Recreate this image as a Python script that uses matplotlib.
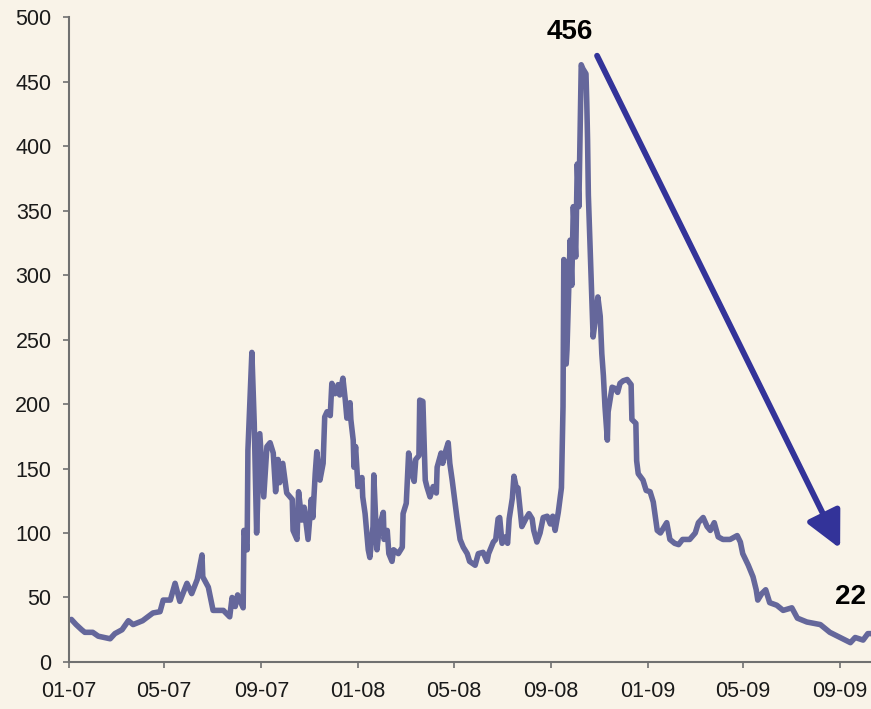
import matplotlib
matplotlib.use("Agg")
import matplotlib.pyplot as plt
import matplotlib.dates as mdates
import pandas as pd

plt.rcParams.update({'font.family': ['Liberation Sans', 'DejaVu Sans'],
                     'font.size': 15.5})

# spread in basis points, 2007 - 2009
dates = [
    "2007-01-04", "2007-01-10", "2007-01-17", "2007-01-21", "2007-01-31", "2007-02-07",
    "2007-02-22", "2007-02-28", "2007-03-09", "2007-03-17", "2007-03-23", "2007-04-04",
    "2007-04-17", "2007-04-26", "2007-04-30", "2007-05-09", "2007-05-15", "2007-05-21",
    "2007-05-30", "2007-06-05", "2007-06-12", "2007-06-18", "2007-06-19", "2007-06-26",
    "2007-07-02", "2007-07-15", "2007-07-23", "2007-07-26", "2007-07-30", "2007-08-02",
    "2007-08-09", "2007-08-10", "2007-08-14", "2007-08-15", "2007-08-20", "2007-08-23",
    "2007-08-26", "2007-08-30", "2007-09-04", "2007-09-08", "2007-09-12", "2007-09-16",
    "2007-09-19", "2007-09-22", "2007-09-24", "2007-09-28", "2007-10-03", "2007-10-10",
    "2007-10-11", "2007-10-16", "2007-10-18", "2007-10-22", "2007-10-25", "2007-10-30",
    "2007-11-03", "2007-11-05", "2007-11-08", "2007-11-10", "2007-11-14", "2007-11-18",
    "2007-11-20", "2007-11-23", "2007-11-27", "2007-11-29", "2007-12-03", "2007-12-07",
    "2007-12-09", "2007-12-13", "2007-12-16", "2007-12-18", "2007-12-22", "2007-12-23",
    "2007-12-26", "2007-12-27", "2007-12-29", "2008-01-01", "2008-01-06", "2008-01-07",
    "2008-01-10", "2008-01-14", "2008-01-16", "2008-01-20", "2008-01-21", "2008-01-25",
    "2008-01-28", "2008-02-02", "2008-02-03", "2008-02-07", "2008-02-09", "2008-02-13",
    "2008-02-15", "2008-02-21", "2008-02-26", "2008-02-27", "2008-03-02", "2008-03-05",
    "2008-03-09", "2008-03-12", "2008-03-14", "2008-03-18", "2008-03-19", "2008-03-23",
    "2008-03-26", "2008-03-28", "2008-04-01", "2008-04-05", "2008-04-09", "2008-04-10",
    "2008-04-15", "2008-04-17", "2008-04-21", "2008-04-24", "2008-04-26", "2008-04-29",
    "2008-05-05", "2008-05-09", "2008-05-13", "2008-05-18", "2008-05-21", "2008-05-28",
    "2008-06-01", "2008-06-07", "2008-06-12", "2008-06-14", "2008-06-20", "2008-06-23",
    "2008-06-26", "2008-06-28", "2008-07-01", "2008-07-05", "2008-07-08", "2008-07-10",
    "2008-07-14", "2008-07-16", "2008-07-19", "2008-07-21", "2008-07-26", "2008-07-31",
    "2008-08-04", "2008-08-08", "2008-08-10", "2008-08-14", "2008-08-18", "2008-08-22",
    "2008-08-27", "2008-08-31", "2008-09-03", "2008-09-06", "2008-09-10", "2008-09-14",
    "2008-09-16", "2008-09-17", "2008-09-20", "2008-09-21", "2008-09-25", "2008-09-27",
    "2008-09-29", "2008-10-02", "2008-10-04", "2008-10-06", "2008-10-09", "2008-10-11",
    "2008-10-15", "2008-10-16", "2008-10-17", "2008-10-18", "2008-10-21", "2008-10-23",
    "2008-10-24", "2008-10-28", "2008-10-30", "2008-11-02", "2008-11-04", "2008-11-06",
    "2008-11-08", "2008-11-11", "2008-11-12", "2008-11-17", "2008-11-21", "2008-11-24",
    "2008-11-27", "2008-12-01", "2008-12-06", "2008-12-11", "2008-12-12", "2008-12-17",
    "2008-12-18", "2008-12-20", "2008-12-26", "2008-12-30", "2009-01-04", "2009-01-08",
    "2009-01-13", "2009-01-17", "2009-01-25", "2009-01-29", "2009-02-04", "2009-02-09",
    "2009-02-14", "2009-02-23", "2009-03-02", "2009-03-06", "2009-03-12", "2009-03-17",
    "2009-03-21", "2009-03-26", "2009-03-31", "2009-04-06", "2009-04-15", "2009-04-24",
    "2009-04-28", "2009-05-01", "2009-05-08", "2009-05-14", "2009-05-18", "2009-05-20",
    "2009-05-25", "2009-05-30", "2009-06-04", "2009-06-13", "2009-06-21", "2009-07-02",
    "2009-07-09", "2009-07-21", "2009-08-07", "2009-08-19", "2009-09-01", "2009-09-14",
    "2009-09-20", "2009-09-30", "2009-10-06", "2009-10-10",
]
spread = [
    33, 29, 25, 23, 23, 20,
    18, 22, 25, 32, 29, 32,
    38, 39, 48, 48, 61, 47,
    61, 53, 64, 83, 66, 58,
    40, 40, 35, 50, 43, 52,
    42, 102, 87, 164, 240, 185,
    100, 177, 128, 167, 170, 162,
    132, 157, 139, 154, 131, 126,
    102, 95, 132, 110, 120, 95,
    126, 112, 146, 163, 141, 154,
    190, 194, 191, 216, 208, 215,
    207, 220, 203, 189, 201, 188,
    172, 151, 167, 136, 143, 128,
    115, 87, 81, 105, 145, 87,
    105, 116, 95, 102, 84, 78,
    87, 84, 89, 115, 123, 162,
    146, 140, 157, 160, 203, 202,
    141, 136, 128, 136, 131, 151,
    162, 154, 164, 170, 154, 141,
    112, 95, 89, 84, 78, 75,
    84, 85, 78, 84, 93, 95,
    111, 112, 92, 97, 92, 111,
    127, 144, 135, 135, 105, 111,
    115, 111, 102, 93, 100, 112,
    113, 107, 113, 102, 116, 135,
    198, 312, 231, 242, 327, 292,
    353, 314, 386, 353, 463, 460,
    456, 434, 405, 362, 308, 274,
    252, 271, 283, 268, 239, 222,
    198, 172, 194, 213, 212, 209,
    216, 218, 219, 215, 188, 185,
    156, 146, 141, 133, 132, 124,
    102, 100, 108, 95, 92, 91,
    95, 95, 100, 108, 112, 105,
    102, 108, 97, 95, 95, 98,
    93, 84, 75, 66, 56, 48,
    53, 56, 46, 44, 40, 42,
    34, 31, 29, 23, 19, 15,
    19, 17, 22, 22,
]

peak_label = "456"
last_label = "22"

x = pd.to_datetime(dates)

bg = "#F9F3E8"
line_col = "#65679B"
arrow_col = "#333399"
axis_col = "#707070"

fig = plt.figure(figsize=(8.71, 7.09), dpi=100, facecolor=bg)
ax = fig.add_axes([0.0792, 0.0663, 0.9208, 0.9097], facecolor=bg)

ax.plot(x, spread, color=line_col, lw=4.0,
        solid_joinstyle="round", solid_capstyle="round", clip_on=False)

ax.set_xlim(pd.Timestamp("2007-01-01"), pd.Timestamp("2009-10-10"))
ax.set_ylim(0, 500)
ax.set_yticks(range(0, 501, 50))
ax.xaxis.set_major_locator(mdates.MonthLocator(bymonth=[1, 5, 9]))
ax.xaxis.set_major_formatter(mdates.DateFormatter("%m-%y"))

for side in ["top", "right"]:
    ax.spines[side].set_visible(False)
for side in ["left", "bottom"]:
    ax.spines[side].set_color(axis_col)
    ax.spines[side].set_linewidth(1.5)
ax.tick_params(axis="both", direction="out", length=4.5, width=1.2,
               color=axis_col, labelcolor="#1a1a1a", labelsize=15.5)
ax.tick_params(axis="x", pad=9)
ax.tick_params(axis="y", pad=8)

# trend arrow from the peak down to the latest reading
ax.annotate("", xy=(pd.Timestamp("2009-09-01"), 88),
            xytext=(pd.Timestamp("2008-10-29"), 470),
            arrowprops=dict(arrowstyle="-|>,head_length=1.1,head_width=0.55",
                            mutation_scale=20, lw=4.2, color=arrow_col,
                            shrinkA=0, shrinkB=0),
            annotation_clip=False)

ax.text(pd.Timestamp("2008-09-25"), 488, peak_label, ha="center", va="center",
        fontsize=20, fontweight="bold", color="black")
ax.text(pd.Timestamp("2009-09-14"), 50, last_label, ha="center", va="center",
        fontsize=20, fontweight="bold", color="black")

fig.savefig("out.png", dpi=100, facecolor=bg)
